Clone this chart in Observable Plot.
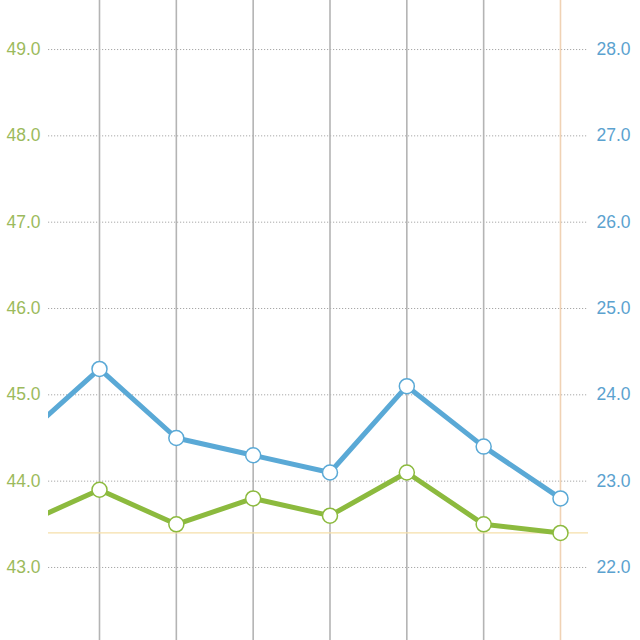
<!DOCTYPE html>
<html><head><meta charset="utf-8">
<script src="https://cdn.jsdelivr.net/npm/d3@7"></script>
<script src="https://cdn.jsdelivr.net/npm/@observablehq/plot@0.6"></script>
<style>html,body{margin:0;padding:0;background:#fff;}</style>
</head><body><div id="chart"></div>
<script>
const idx = [0, 1, 2, 3, 4, 5, 6, 7];
const greenVals = [43.5, 43.9, 43.5, 43.8, 43.6, 44.1, 43.5, 43.4]; // left axis
const blueVals  = [23.5, 24.3, 23.5, 23.3, 23.1, 24.1, 23.4, 22.8]; // right axis
const leftTicks = [43, 44, 45, 46, 47, 48, 49];
const rightTicks = [22, 23, 24, 25, 26, 27, 28];
const refLevel = 43.4;
const axisOffset = 21; // left = right + 21

const green = "#8cba3e", blue = "#5aa9d6";
const greenText = "#9cba5c", blueText = "#5ba2cf";

const data = idx.map((i, k) => ({i, g: greenVals[k], b: blueVals[k] + axisOffset}));

const chart = Plot.plot({
  width: 640, height: 640,
  marginLeft: 48, marginRight: 52, marginTop: 0, marginBottom: 0,
  style: {fontFamily: "'Liberation Sans', Arial, sans-serif", background: "#fff"},
  x: {domain: [0.3362, 7.3646], axis: null},
  y: {domain: [42.154, 49.568], axis: null},
  marks: [
    Plot.ruleY(leftTicks, {stroke: "#a8a8a8", strokeWidth: 1, strokeDasharray: "1.2,1.8"}),
    Plot.ruleX(idx.slice(1, 7), {stroke: "#b4b4b4", strokeWidth: 1.6}),
    Plot.ruleX([7], {stroke: "#f0d2b4", strokeWidth: 1.6}),
    Plot.ruleY([refLevel], {stroke: "#f6dfaa", strokeWidth: 1.3}),
    Plot.line(data, {x: "i", y: "b", stroke: blue, strokeWidth: 5, clip: true}),
    Plot.line(data, {x: "i", y: "g", stroke: green, strokeWidth: 5, clip: true}),
    Plot.dot(data.slice(1), {x: "i", y: "b", r: 7.5, fill: "#fff", stroke: blue, strokeWidth: 1.5}),
    Plot.dot(data.slice(1), {x: "i", y: "g", r: 7.5, fill: "#fff", stroke: green, strokeWidth: 1.5}),
    Plot.axisY(leftTicks, {anchor: "left", tickSize: 0, tickPadding: 8, fill: greenText, fontSize: 17.5, tickFormat: d => d.toFixed(1), label: null}),
    Plot.axisY(rightTicks.map(t => t + axisOffset), {anchor: "right", tickSize: 0, tickPadding: 8, fill: blueText, fontSize: 17.5, tickFormat: d => (d - axisOffset).toFixed(1), label: null})
  ]
});
document.getElementById("chart").appendChild(chart);
</script>
</body></html>
